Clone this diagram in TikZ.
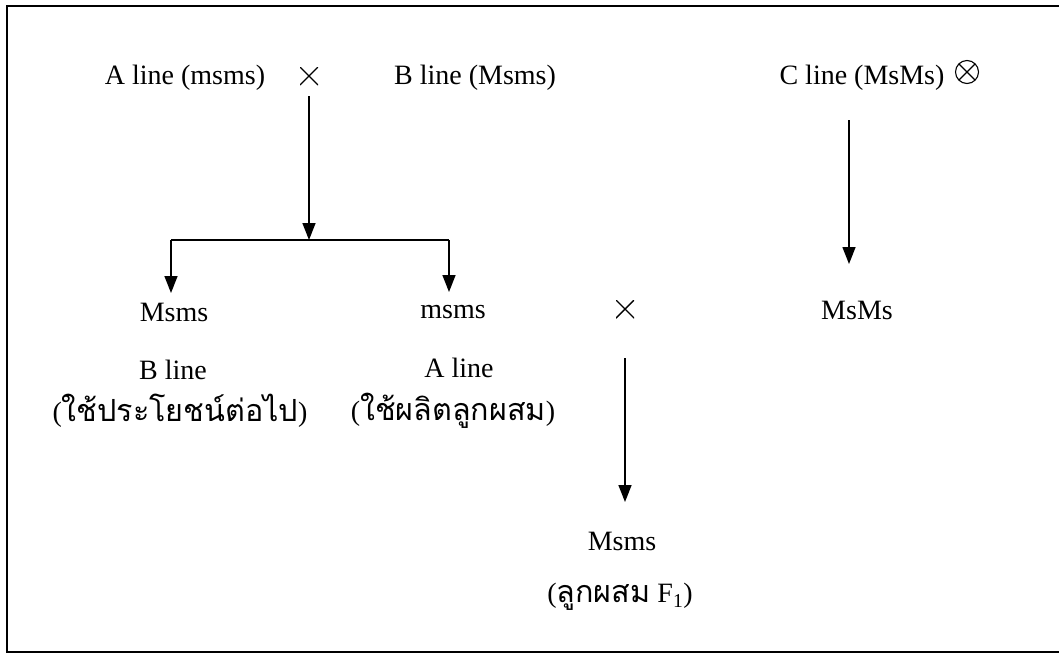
\documentclass[tikz,border=0pt]{standalone}
\usepackage{fontspec}
\setmainfont{Liberation Serif}
\newfontfamily\thaifont[Script=Thai]{Loma}
\usetikzlibrary{arrows.meta}
\begin{document}
\begin{tikzpicture}[x=1pt,y=-1pt,
  lbl/.style={inner sep=0pt,font=\fontsize{28}{30}\selectfont},
  thl/.style={inner sep=0pt,font=\fontsize{28}{30}\selectfont},
  crossmark/.style={inner sep=0pt,minimum size=18pt,
    path picture={\draw[line width=1.4pt,line cap=round]
      (path picture bounding box.north west) -- (path picture bounding box.south east)
      (path picture bounding box.north east) -- (path picture bounding box.south west);}},
  otimesmark/.style={circle,draw,line width=1.1pt,inner sep=0pt,minimum size=23pt,
    path picture={\draw[line width=1.1pt]
      (path picture bounding box.north west) -- (path picture bounding box.south east)
      (path picture bounding box.north east) -- (path picture bounding box.south west);}},
  conn/.style={line width=1.5pt},
  arr/.style={line width=1.5pt,-{Triangle[length=17pt,width=13pt]}}]
\useasboundingbox (0,0) rectangle (1059,654);
\draw[line width=2pt] (7,6) rectangle (1064,652);
% top row
\node[lbl] (aline) at (185,78) {A line (msms)};
\node[crossmark] (cross1) at (309,76) {};
\node[lbl] (bline) at (475,78) {B line (Msms)};
\node[lbl] (cline) at (862,78) {C line (MsMs)};
\node[otimesmark] (otimes) at (967,72) {};
% coordinates
\coordinate (c1top) at (309,96);
\coordinate (split) at (309,240);
\coordinate (lcorner) at (171,240);
\coordinate (rcorner) at (449,240);
\coordinate (lend) at (171,293);
\coordinate (rend) at (449,292);
\coordinate (c2top) at (625,358);
\coordinate (c2end) at (625,502);
\coordinate (ctop) at (849,120);
\coordinate (cend) at (849,264);
% second row
\node[lbl] (msmsB) at (174,312) {Msms};
\node[lbl] (bline2) at (173,370) {B line};
\node[thl] (use1) at (180,411) {({\thaifont\fontsize{30.5}{32}\selectfont ใช้ประโยชน์ต่อไป})};
\node[lbl] (msmsA) at (453,312) {msms};
\node[lbl] (aline2) at (459,368) {A line};
\node[thl] (use2) at (453,411) {({\thaifont\fontsize{30.5}{32}\selectfont ใช้ผลิตลูกผสม})};
\node[crossmark] (cross2) at (625,309) {};
\node[lbl] (msmsC) at (857,310) {MsMs};
% hybrid
\node[lbl] (hyb) at (622,541) {Msms};
\node[thl] (f1) at (620,597) {({\thaifont\fontsize{30.5}{32}\selectfont ลูกผสม} F\textsubscript{1})};
% connectors
\draw[arr] (c1top) -- (split);
\draw[conn] (lcorner) -- (rcorner);
\draw[arr] (lcorner) -- (lend);
\draw[arr] (rcorner) -- (rend);
\draw[arr] (c2top) -- (c2end);
\draw[arr] (ctop) -- (cend);
\end{tikzpicture}
\end{document}
